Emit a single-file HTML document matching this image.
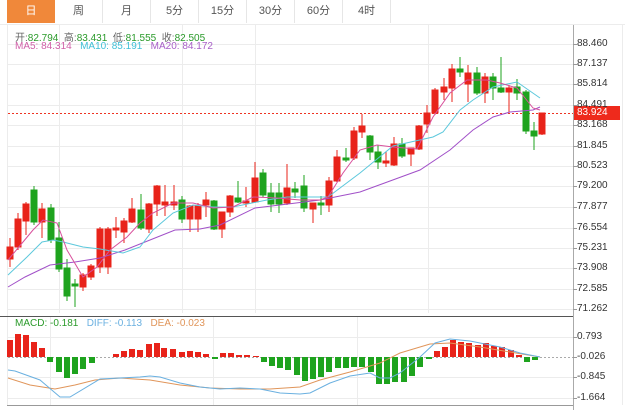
<!DOCTYPE html>
<html><head><meta charset="utf-8"><style>
body{margin:0;width:625px;height:417px;background:#fff;font-family:"Liberation Sans","Noto Sans CJK SC",sans-serif;overflow:hidden;position:relative}
.tab{position:absolute;top:0;height:23px;width:48px;line-height:23px;text-align:center;font-size:11px;color:#555;border-right:1px solid #e6e6e6;box-sizing:border-box}
.info{position:absolute;left:15px;font-size:10px;white-space:nowrap}
.ax{position:absolute;left:577px;font-size:10px;color:#333}
</style></head><body>
<div class="tab" style="left:7px;background:#f0883a;color:#fff;border:none">日</div>
<div class="tab" style="left:55px">周</div>
<div class="tab" style="left:103px">月</div>
<div class="tab" style="left:151px">5分</div>
<div class="tab" style="left:199px">15分</div>
<div class="tab" style="left:247px">30分</div>
<div class="tab" style="left:295px">60分</div>
<div class="tab" style="left:343px">4时</div>
<svg width="625" height="417" style="position:absolute;left:0;top:0" xmlns="http://www.w3.org/2000/svg">
<g stroke="#ececec" stroke-width="1">
<line x1="0" y1="24.5" x2="625" y2="24.5"/>
<line x1="7.5" y1="25" x2="7.5" y2="405"/>
<line x1="622.5" y1="25" x2="622.5" y2="405"/>
<line x1="59.5" y1="25" x2="59.5" y2="313"/><line x1="182.5" y1="25" x2="182.5" y2="313"/><line x1="255.5" y1="25" x2="255.5" y2="313"/><line x1="428.5" y1="25" x2="428.5" y2="313"/>
<line x1="50.5" y1="317" x2="50.5" y2="405"/><line x1="213.5" y1="317" x2="213.5" y2="405"/><line x1="357.5" y1="317" x2="357.5" y2="405"/>
<line x1="8" y1="44.5" x2="573" y2="44.5"/><line x1="8" y1="64.5" x2="573" y2="64.5"/><line x1="8" y1="84.5" x2="573" y2="84.5"/><line x1="8" y1="105.5" x2="573" y2="105.5"/><line x1="8" y1="125.5" x2="573" y2="125.5"/><line x1="8" y1="146.5" x2="573" y2="146.5"/><line x1="8" y1="166.5" x2="573" y2="166.5"/><line x1="8" y1="186.5" x2="573" y2="186.5"/><line x1="8" y1="207.5" x2="573" y2="207.5"/><line x1="8" y1="228.5" x2="573" y2="228.5"/><line x1="8" y1="248.5" x2="573" y2="248.5"/><line x1="8" y1="268.5" x2="573" y2="268.5"/><line x1="8" y1="289.5" x2="573" y2="289.5"/><line x1="8" y1="309.5" x2="573" y2="309.5"/>
<line x1="8" y1="337.5" x2="573" y2="337.5"/><line x1="8" y1="377.5" x2="573" y2="377.5"/><line x1="8" y1="398.5" x2="573" y2="398.5"/>
</g>
<line x1="0" y1="316.5" x2="573" y2="316.5" stroke="#555"/>
<line x1="7" y1="405.5" x2="573" y2="405.5" stroke="#999"/>
<line x1="573.5" y1="25" x2="573.5" y2="410" stroke="#aaa"/>
<g stroke="#999"><line x1="573" y1="44.5" x2="577" y2="44.5"/><line x1="573" y1="64.5" x2="577" y2="64.5"/><line x1="573" y1="84.5" x2="577" y2="84.5"/><line x1="573" y1="105.5" x2="577" y2="105.5"/><line x1="573" y1="125.5" x2="577" y2="125.5"/><line x1="573" y1="146.5" x2="577" y2="146.5"/><line x1="573" y1="166.5" x2="577" y2="166.5"/><line x1="573" y1="186.5" x2="577" y2="186.5"/><line x1="573" y1="207.5" x2="577" y2="207.5"/><line x1="573" y1="228.5" x2="577" y2="228.5"/><line x1="573" y1="248.5" x2="577" y2="248.5"/><line x1="573" y1="268.5" x2="577" y2="268.5"/><line x1="573" y1="289.5" x2="577" y2="289.5"/><line x1="573" y1="309.5" x2="577" y2="309.5"/><line x1="573" y1="337.5" x2="577" y2="337.5"/><line x1="573" y1="357.5" x2="577" y2="357.5"/><line x1="573" y1="377.5" x2="577" y2="377.5"/><line x1="573" y1="398.5" x2="577" y2="398.5"/></g>
<line x1="8" y1="113.5" x2="573" y2="113.5" stroke="#ee3322" stroke-dasharray="2,2"/>
<line x1="8" y1="357.5" x2="573" y2="357.5" stroke="#aaa" stroke-dasharray="2,2"/>
<rect x="574" y="106" width="46" height="14" fill="#ee2a1c"/>
<g stroke-width="1">
<g stroke="#e8231a" fill="#e8231a">
<line x1="10" y1="238" x2="10" y2="267"/><rect x="7" y="247" width="6" height="12"/>
<line x1="18" y1="213" x2="18" y2="250"/><rect x="15" y="219" width="6" height="28"/>
<line x1="26" y1="202" x2="26" y2="235"/><rect x="23" y="204" width="6" height="17"/>
<line x1="42" y1="203" x2="42" y2="238"/><rect x="39" y="209" width="6" height="13"/>
<line x1="83" y1="273" x2="83" y2="291"/><rect x="80" y="275" width="6" height="12"/>
<line x1="91" y1="264" x2="91" y2="280"/><rect x="88" y="266" width="6" height="11"/>
<line x1="100" y1="227" x2="100" y2="273"/><rect x="97" y="229" width="6" height="38"/>
<line x1="108" y1="227" x2="108" y2="274"/><rect x="105" y="229" width="6" height="38"/>
<line x1="116" y1="217" x2="116" y2="238"/><rect x="113" y="228" width="6" height="2"/>
<line x1="124" y1="218" x2="124" y2="243"/><rect x="121" y="221" width="6" height="11"/>
<line x1="132" y1="198" x2="132" y2="223"/><rect x="129" y="209" width="6" height="13"/>
<line x1="149" y1="203" x2="149" y2="233"/><rect x="146" y="204" width="6" height="25"/>
<line x1="157" y1="185" x2="157" y2="216"/><rect x="154" y="186" width="6" height="18"/>
<line x1="165" y1="185" x2="165" y2="216"/><rect x="162" y="202" width="6" height="3"/>
<line x1="174" y1="185" x2="174" y2="210"/><rect x="171" y="202" width="6" height="3"/>
<line x1="190" y1="205" x2="190" y2="232"/><rect x="187" y="206" width="6" height="13"/>
<line x1="198" y1="203" x2="198" y2="232"/><rect x="195" y="206" width="6" height="13"/>
<line x1="206" y1="192" x2="206" y2="217"/><rect x="203" y="200" width="6" height="5"/>
<line x1="222" y1="212" x2="222" y2="238"/><rect x="219" y="212" width="6" height="17"/>
<line x1="230" y1="195" x2="230" y2="217"/><rect x="227" y="196" width="6" height="16"/>
<line x1="246" y1="187" x2="246" y2="207"/><rect x="243" y="201" width="6" height="2"/>
<line x1="255" y1="162" x2="255" y2="203"/><rect x="252" y="178" width="6" height="24"/>
<line x1="287" y1="164" x2="287" y2="205"/><rect x="284" y="188" width="6" height="15"/>
<line x1="313" y1="203" x2="313" y2="223"/><rect x="310" y="203" width="6" height="6"/>
<line x1="329" y1="177" x2="329" y2="212"/><rect x="326" y="181" width="6" height="24"/>
<line x1="337" y1="150" x2="337" y2="182"/><rect x="334" y="157" width="6" height="24"/>
<line x1="354" y1="127" x2="354" y2="160"/><rect x="351" y="131" width="6" height="27"/>
<line x1="362" y1="114" x2="362" y2="138"/><rect x="359" y="126" width="6" height="6"/>
<line x1="386" y1="152" x2="386" y2="167"/><rect x="383" y="161" width="6" height="2"/>
<line x1="394" y1="137" x2="394" y2="166"/><rect x="391" y="144" width="6" height="21"/>
<line x1="411" y1="148" x2="411" y2="166"/><rect x="408" y="148" width="6" height="6"/>
<line x1="419" y1="125" x2="419" y2="150"/><rect x="416" y="126" width="6" height="23"/>
<line x1="427" y1="105" x2="427" y2="133"/><rect x="424" y="113" width="6" height="11"/>
<line x1="435" y1="88" x2="435" y2="115"/><rect x="432" y="90" width="6" height="23"/>
<line x1="444" y1="78" x2="444" y2="100"/><rect x="441" y="87" width="6" height="5"/>
<line x1="452" y1="64" x2="452" y2="102"/><rect x="449" y="69" width="6" height="19"/>
<line x1="468" y1="65" x2="468" y2="102"/><rect x="465" y="73" width="6" height="11"/>
<line x1="485" y1="73" x2="485" y2="103"/><rect x="482" y="77" width="6" height="16"/>
<line x1="509" y1="85" x2="509" y2="112"/><rect x="506" y="88" width="6" height="4"/>
<line x1="542" y1="113" x2="542" y2="135"/><rect x="539" y="113" width="6" height="21"/>
</g>
<g stroke="#1ea31e" fill="#1ea31e">
<line x1="34" y1="186" x2="34" y2="225"/><rect x="31" y="190" width="6" height="32"/>
<line x1="51" y1="204" x2="51" y2="243"/><rect x="48" y="208" width="6" height="32"/>
<line x1="59" y1="222" x2="59" y2="272"/><rect x="56" y="238" width="6" height="31"/>
<line x1="67" y1="259" x2="67" y2="301"/><rect x="64" y="268" width="6" height="28"/>
<line x1="75" y1="279" x2="75" y2="307"/><rect x="72" y="284" width="6" height="2"/>
<line x1="141" y1="194" x2="141" y2="230"/><rect x="138" y="210" width="6" height="18"/>
<line x1="182" y1="196" x2="182" y2="223"/><rect x="179" y="200" width="6" height="19"/>
<line x1="214" y1="200" x2="214" y2="230"/><rect x="211" y="201" width="6" height="28"/>
<line x1="238" y1="181" x2="238" y2="203"/><rect x="235" y="198" width="6" height="4"/>
<line x1="263" y1="169" x2="263" y2="197"/><rect x="260" y="173" width="6" height="22"/>
<line x1="271" y1="183" x2="271" y2="212"/><rect x="268" y="193" width="6" height="11"/>
<line x1="279" y1="183" x2="279" y2="213"/><rect x="276" y="193" width="6" height="11"/>
<line x1="295" y1="182" x2="295" y2="198"/><rect x="292" y="189" width="6" height="3"/>
<line x1="304" y1="175" x2="304" y2="212"/><rect x="301" y="186" width="6" height="22"/>
<line x1="321" y1="196" x2="321" y2="215"/><rect x="318" y="203" width="6" height="2"/>
<line x1="346" y1="148" x2="346" y2="162"/><rect x="343" y="158" width="6" height="2"/>
<line x1="370" y1="135" x2="370" y2="160"/><rect x="367" y="136" width="6" height="16"/>
<line x1="378" y1="145" x2="378" y2="169"/><rect x="375" y="152" width="6" height="10"/>
<line x1="402" y1="138" x2="402" y2="158"/><rect x="399" y="144" width="6" height="12"/>
<line x1="460" y1="57" x2="460" y2="77"/><rect x="457" y="69" width="6" height="3"/>
<line x1="477" y1="67" x2="477" y2="95"/><rect x="474" y="73" width="6" height="20"/>
<line x1="493" y1="73" x2="493" y2="100"/><rect x="490" y="77" width="6" height="11"/>
<line x1="501" y1="57" x2="501" y2="93"/><rect x="498" y="88" width="6" height="4"/>
<line x1="517" y1="79" x2="517" y2="100"/><rect x="514" y="87" width="6" height="6"/>
<line x1="526" y1="90" x2="526" y2="134"/><rect x="523" y="92" width="6" height="39"/>
<line x1="534" y1="122" x2="534" y2="150"/><rect x="531" y="131" width="6" height="5"/>
</g></g>
<polyline fill="none" stroke="#a150c8" stroke-width="1" points="8,287 25,277 50,265 75,262 100,258 125,250 150,240 175,230 200,229 220,225 255,208 280,205 320,200 330,198 360,192 420,170 450,150 473,130 493,117 510,112 533,110 540,107"/>
<polyline fill="none" stroke="#5cc8dc" stroke-width="1" points="8,275 27,257 42,242 53,240 63,242 83,247 100,249 123,253 140,247 153,230 173,213 193,205 213,207 233,207 257,202 267,200 287,197 320,197 328,197 360,173 393,146 433,137 443,132 460,110 473,100 493,87 517,82 540,98"/>
<polyline fill="none" stroke="#d8509c" stroke-width="1" points="8,260 23,242 33,230 43,220 57,223 67,250 83,277 97,267 110,250 127,237 140,223 153,213 173,203 193,203 213,208 233,207 253,197 277,198 300,200 320,200 328,197 343,173 360,150 377,145 393,147 417,149 433,117 450,93 467,80 487,80 500,83 517,88 533,108 540,110"/>
<g fill="#e8231a">
<rect x="7" y="340" width="6" height="17"/><rect x="15" y="334" width="6" height="23"/><rect x="23" y="335" width="6" height="22"/><rect x="31" y="342" width="6" height="15"/><rect x="39" y="348" width="6" height="9"/>
<rect x="113" y="354" width="6" height="3"/><rect x="121" y="351" width="6" height="6"/><rect x="129" y="349" width="6" height="8"/><rect x="137" y="350" width="6" height="7"/><rect x="146" y="344" width="6" height="13"/><rect x="154" y="343" width="6" height="14"/><rect x="161" y="348" width="6" height="9"/><rect x="170" y="349" width="6" height="8"/><rect x="179" y="352" width="6" height="5"/><rect x="187" y="351" width="6" height="6"/><rect x="195" y="352" width="6" height="5"/><rect x="203" y="354" width="6" height="3"/><rect x="220" y="353" width="6" height="4"/><rect x="228" y="353" width="6" height="4"/><rect x="236" y="355" width="6" height="2"/><rect x="244" y="355" width="6" height="2"/><rect x="253" y="356" width="6" height="1"/>
<rect x="434" y="351" width="6" height="6"/><rect x="442" y="347" width="6" height="10"/><rect x="450" y="340" width="6" height="17"/><rect x="458" y="342" width="6" height="15"/><rect x="466" y="343" width="6" height="14"/><rect x="475" y="345" width="6" height="12"/><rect x="483" y="343" width="6" height="14"/><rect x="491" y="346" width="6" height="11"/><rect x="499" y="347" width="6" height="10"/><rect x="508" y="350" width="6" height="7"/><rect x="516" y="355" width="6" height="2"/>
</g>
<g fill="#1ea31e">
<rect x="47" y="357" width="6" height="5"/><rect x="56" y="357" width="6" height="15"/><rect x="64" y="357" width="6" height="21"/><rect x="72" y="357" width="6" height="17"/><rect x="80" y="357" width="6" height="12"/><rect x="89" y="357" width="6" height="6"/>
<rect x="212" y="357" width="6" height="2"/>
<rect x="261" y="357" width="6" height="5"/><rect x="269" y="357" width="6" height="9"/><rect x="277" y="357" width="6" height="11"/><rect x="285" y="357" width="6" height="13"/><rect x="294" y="357" width="6" height="18"/><rect x="302" y="357" width="6" height="24"/><rect x="310" y="357" width="6" height="22"/><rect x="318" y="357" width="6" height="20"/><rect x="326" y="357" width="6" height="15"/><rect x="335" y="357" width="6" height="11"/><rect x="343" y="357" width="6" height="11"/><rect x="351" y="357" width="6" height="10"/><rect x="359" y="357" width="6" height="10"/><rect x="368" y="357" width="6" height="15"/><rect x="376" y="357" width="6" height="27"/><rect x="384" y="357" width="6" height="27"/><rect x="392" y="357" width="6" height="25"/><rect x="401" y="357" width="6" height="25"/><rect x="409" y="357" width="6" height="19"/><rect x="417" y="357" width="6" height="10"/><rect x="426" y="357" width="6" height="2"/>
<rect x="524" y="357" width="6" height="5"/><rect x="532" y="357" width="6" height="3"/>
</g>
<polyline fill="none" stroke="#e0955a" stroke-width="1" points="8,378 30,385 55,389 75,385 95,380 120,378 150,380 180,385 210,388 240,389 270,389 300,387 320,380 350,372 380,363 400,353 430,344 450,343 480,347 510,352 540,357"/>
<polyline fill="none" stroke="#6ab0e0" stroke-width="1" points="8,370 15,371 40,380 60,397 70,397 100,379 140,377 150,376 160,377 180,383 200,387 220,389 240,388 260,389 280,393 300,394 310,393 330,383 350,376 370,373 380,378 390,378 400,373 420,357 435,343 450,339 470,341 500,347 520,353 540,357"/>
</svg>
<div class="info" style="top:29px;color:#666">开:<span style="color:#2a9a2a">82.794</span>&nbsp; 高:<span style="color:#2a9a2a">83.431</span>&nbsp; 低:<span style="color:#2a9a2a">81.555</span>&nbsp; 收:<span style="color:#2a9a2a">82.505</span></div>
<div class="info" style="top:41px"><span style="color:#d060a8">MA5: 84.314</span>&nbsp;&nbsp; <span style="color:#40c0d8">MA10: 85.191</span>&nbsp;&nbsp; <span style="color:#a860c8">MA20: 84.172</span></div>
<div class="info" style="top:318px"><span style="color:#2a9a2a">MACD: -0.181</span>&nbsp;&nbsp; <span style="color:#6ab0e0">DIFF: -0.113</span>&nbsp;&nbsp; <span style="color:#e0955a">DEA: -0.023</span></div>
<div class="ax" style="top:38px">88.460</div>
<div class="ax" style="top:58px">87.137</div>
<div class="ax" style="top:78px">85.814</div>
<div class="ax" style="top:99px">84.491</div>
<div class="ax" style="top:107px;color:#fff">83.924</div>
<div class="ax" style="top:119px">83.168</div>
<div class="ax" style="top:140px">81.845</div>
<div class="ax" style="top:160px">80.523</div>
<div class="ax" style="top:180px">79.200</div>
<div class="ax" style="top:201px">77.877</div>
<div class="ax" style="top:222px">76.554</div>
<div class="ax" style="top:242px">75.231</div>
<div class="ax" style="top:262px">73.908</div>
<div class="ax" style="top:283px">72.585</div>
<div class="ax" style="top:303px">71.262</div>
<div class="ax" style="top:331px">0.793</div>
<div class="ax" style="top:351px">-0.026</div>
<div class="ax" style="top:371px">-0.845</div>
<div class="ax" style="top:392px">-1.664</div>
</body></html>
